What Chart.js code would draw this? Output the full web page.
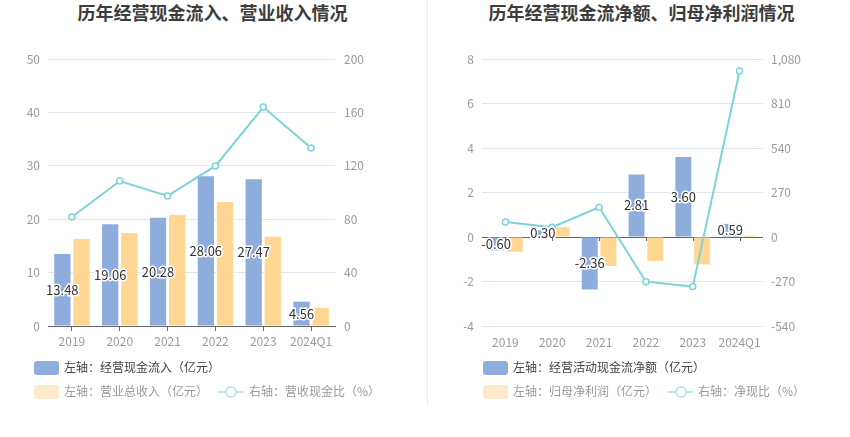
<!DOCTYPE html>
<html>
<head>
<meta charset="utf-8">
<script src="https://cdn.jsdelivr.net/npm/chart.js@4/dist/chart.umd.min.js"></script>
<style>
  body { margin: 0; background: #fff; font-family: "Noto Sans CJK SC", "Noto Sans", sans-serif; }
  #wrap { position: relative; width: 850px; height: 437px; overflow: hidden; }
  .title { position: absolute; top: -1px; width: 425px; text-align: center; font-size: 18px; font-weight: bold; color: #3d3d3d; }
  .cv { position: absolute; top: 0; width: 425px; height: 360px; }
  .divider { position: absolute; left: 427px; top: 0; width: 1px; height: 406px; background: #eeeeee; }
  .leg { position: absolute; font-size: 12px; line-height: 14px; white-space: nowrap; }
  .box { position: absolute; width: 25px; height: 14px; border-radius: 3px; }
  .ln { position: absolute; width: 25px; height: 14px; }
  .ln::before { content: ""; position: absolute; left: 0; right: 0; top: 6px; height: 2px; background: #b9e9eb; }
  .ln::after { content: ""; position: absolute; left: 7px; top: 1px; width: 8px; height: 8px; border: 2px solid #b9e9eb; border-radius: 50%; background: #fff; }
</style>
</head>
<body>
<div id="wrap">
  <div class="title" style="left:0">历年经营现金流入、营业收入情况</div>
  <div class="title" style="left:429px">历年经营现金流净额、归母净利润情况</div>
  <div class="cv" style="left:0"><canvas id="leftChart" width="425" height="360"></canvas></div>
  <div class="cv" style="left:425px"><canvas id="rightChart" width="425" height="360"></canvas></div>
  <div class="divider"></div>

  <div class="box" style="left:34px;top:361px;background:#8eaddc"></div>
  <div class="leg" style="left:64px;top:360px;color:#444">左轴：经营现金流入（亿元）</div>
  <div class="box" style="left:34px;top:385px;background:#ffebcb"></div>
  <div class="leg" style="left:64px;top:384px;color:#9a9a9a">左轴：营业总收入（亿元）</div>
  <div class="ln" style="left:218px;top:385px"></div>
  <div class="leg" style="left:249px;top:384px;color:#9a9a9a">右轴：营收现金比（%）</div>

  <div class="box" style="left:483px;top:361px;background:#8eaddc"></div>
  <div class="leg" style="left:513px;top:360px;color:#444">左轴：经营活动现金流净额（亿元）</div>
  <div class="box" style="left:483px;top:385px;background:#ffebcb"></div>
  <div class="leg" style="left:513px;top:384px;color:#9a9a9a">左轴：归母净利润（亿元）</div>
  <div class="ln" style="left:668px;top:385px"></div>
  <div class="leg" style="left:698px;top:384px;color:#9a9a9a">右轴：净现比（%）</div>
</div>

<script>
// categories
const years = ['2019', '2020', '2021', '2022', '2023', '2024Q1'];

// left chart: cash inflow, revenue (亿元), ratio (%)
const cashInflow = [13.48, 19.06, 20.28, 28.06, 27.47, 4.56];
const revenue = [16.3, 17.4, 20.8, 23.2, 16.7, 3.4];
const cashRatio = [81.6, 108.6, 97.4, 119.9, 164.0, 133.3];

// right chart: net operating cash flow, net profit (亿元), ratio (%)
const netCash = [-0.60, 0.30, -2.36, 2.81, 3.60, 0.59];
const netProfit = [-0.66, 0.44, -1.30, -1.08, -1.23, 0.058];
const netRatio = [91, 59, 180, -271, -301, 1007];

const BLUE = '#8eaddc';
const ORANGE = '#ffd692';
const TEAL = '#7dd3d8';
const GRID = '#e0e6f1';
const TICK = '#9a9a9a';
const FONT = '"Noto Sans CJK SC", "Noto Sans", sans-serif';

Chart.defaults.font.family = FONT;
Chart.defaults.font.size = 12;
Chart.defaults.animation = false;

// value labels centered inside the first bar series
const barLabels = {
    id: 'barLabels',
    afterDatasetsDraw(chart) {
        const c = chart.ctx;
        const meta = chart.getDatasetMeta(0);
        const data = chart.data.datasets[0].data;
        c.save();
        c.font = '13px ' + FONT;
        c.textAlign = 'center';
        c.textBaseline = 'middle';
        c.lineWidth = 3;
        c.strokeStyle = '#fff';
        c.fillStyle = '#333';
        meta.data.forEach((bar, i) => {
            const y = (bar.y + bar.base) / 2;
            const txt = data[i].toFixed(2);
            c.strokeText(txt, bar.x, y);
            c.fillText(txt, bar.x, y);
        });
        c.restore();
    }
};

// small ticks under the zero line for the right chart
const zeroTicks = {
    id: 'zeroTicks',
    afterDraw(chart) {
        const c = chart.ctx;
        const x = chart.scales.x;
        const y0 = chart.scales.y.getPixelForValue(0);
        c.save();
        c.strokeStyle = '#666';
        c.lineWidth = 1;
        years.forEach((_, i) => {
            const px = Math.round(x.getPixelForValue(i)) + 0.5;
            c.beginPath();
            c.moveTo(px, y0);
            c.lineTo(px, y0 + 4);
            c.stroke();
        });
        c.restore();
    }
};

function barSet(data, color) {
    return {
        type: 'bar', data: data, backgroundColor: color, yAxisID: 'y', order: 1,
        categoryPercentage: 0.8, barPercentage: 0.85
    };
}

function lineSet(data) {
    return {
        type: 'line', data: data, yAxisID: 'y1', order: 0,
        borderColor: TEAL, borderWidth: 2, pointRadius: 3, pointBorderWidth: 1.5,
        pointBackgroundColor: '#fff', pointBorderColor: TEAL, tension: 0
    };
}

function fixWidth(w) {
    return function (scale) { scale.width = w; };
}

const xTicks = { color: TICK, maxRotation: 0, minRotation: 0, autoSkip: false };

// left chart
new Chart(document.getElementById('leftChart'), {
    data: {
        labels: years,
        datasets: [barSet(cashInflow, BLUE), barSet(revenue, ORANGE), lineSet(cashRatio)]
    },
    options: {
        responsive: false,
        layout: { padding: { top: 59, bottom: 4 } },
        plugins: { legend: { display: false }, tooltip: { enabled: false } },
        scales: {
            x: {
                grid: { display: true, drawOnChartArea: false, offset: false, tickLength: 5, color: '#666' },
                border: { color: '#666' },
                ticks: Object.assign({ padding: 3 }, xTicks),
                afterFit(scale) { scale.height = 30; }
            },
            y: {
                position: 'left', min: 0, max: 50,
                ticks: { stepSize: 10, color: TICK, padding: 8 },
                grid: { color: GRID, drawTicks: false },
                border: { display: false },
                afterFit: fixWidth(48)
            },
            y1: {
                position: 'right', min: 0, max: 200,
                ticks: { stepSize: 40, color: TICK, padding: 9 },
                grid: { display: false, drawTicks: false },
                border: { display: false },
                afterFit: fixWidth(90)
            }
        }
    },
    plugins: [barLabels]
});

// right chart
new Chart(document.getElementById('rightChart'), {
    data: {
        labels: years,
        datasets: [barSet(netCash, BLUE), barSet(netProfit, ORANGE), lineSet(netRatio)]
    },
    options: {
        responsive: false,
        layout: { padding: { top: 59, bottom: 4 } },
        plugins: { legend: { display: false }, tooltip: { enabled: false } },
        scales: {
            x: {
                grid: { display: false },
                border: { display: false },
                ticks: Object.assign({ padding: 1 }, xTicks),
                afterFit(scale) { scale.height = 30; }
            },
            y: {
                position: 'left', min: -4, max: 8,
                ticks: { stepSize: 2, color: TICK, padding: 8 },
                grid: {
                    color: (ctx) => ctx.tick && ctx.tick.value === 0 ? '#666' : GRID,
                    drawTicks: false
                },
                border: { display: false },
                afterFit: fixWidth(57)
            },
            y1: {
                position: 'right', min: -540, max: 1080,
                ticks: {
                    stepSize: 270, color: TICK, padding: 8,
                    callback: (v) => v.toLocaleString('en-US')
                },
                grid: { display: false, drawTicks: false },
                border: { display: false },
                afterFit: fixWidth(87)
            }
        }
    },
    plugins: [barLabels, zeroTicks]
});
</script>
</body>
</html>
